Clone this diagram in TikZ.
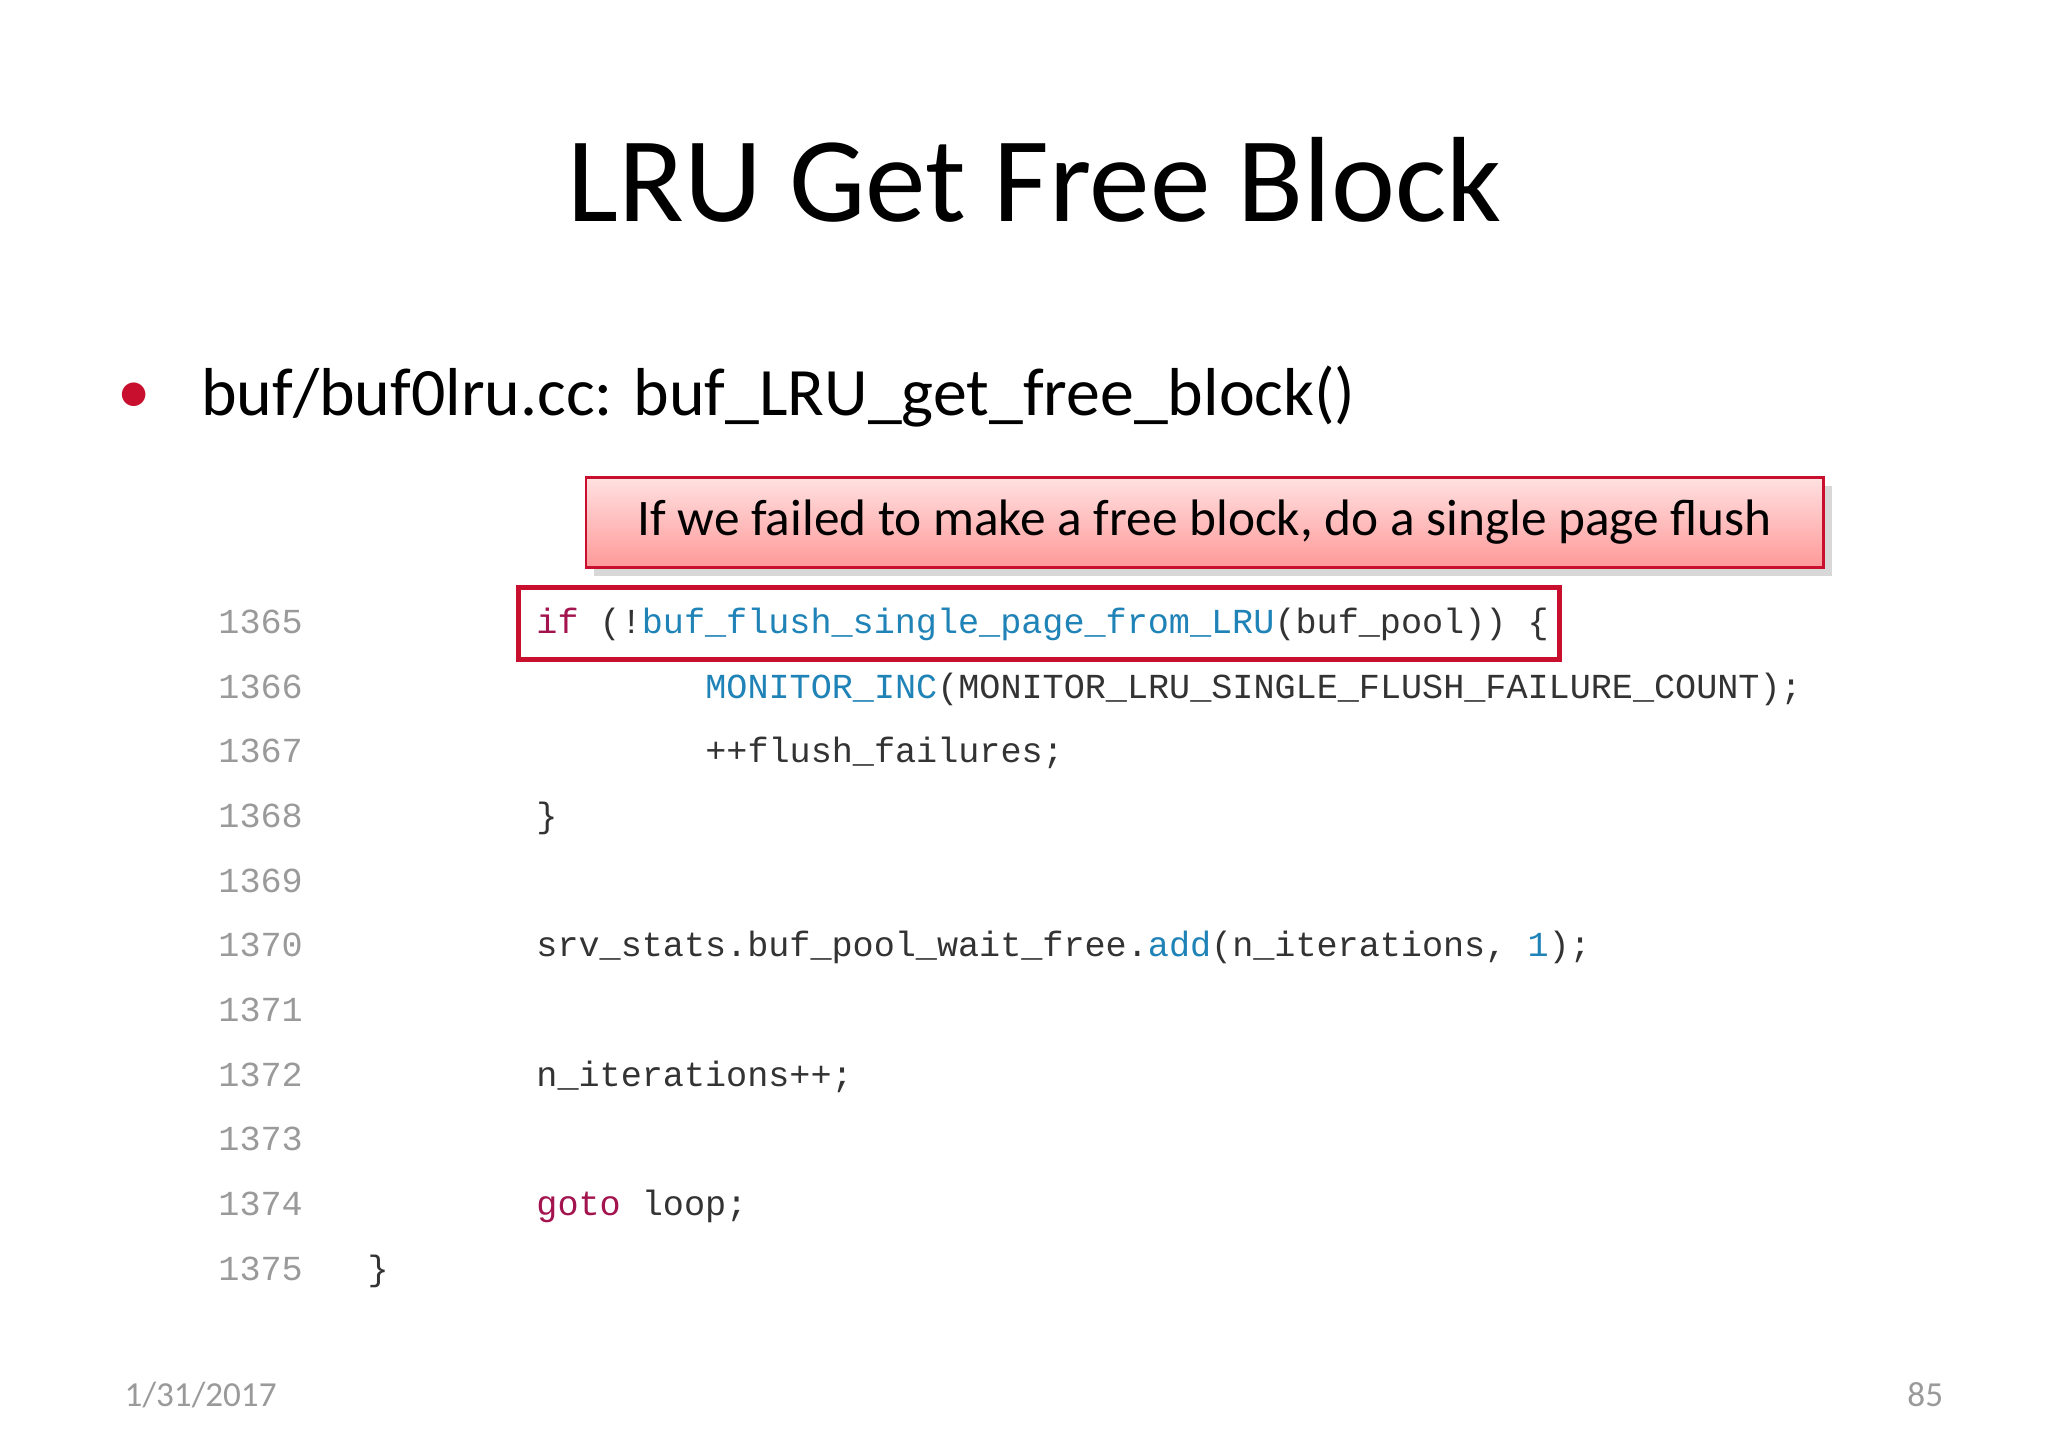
\documentclass[tikz,border=0pt]{standalone}
\usepackage{fontspec}
\setmainfont{Carlito}
\newfontfamily\codefont{Liberation Mono}
\usetikzlibrary{positioning,shadows}
\definecolor{kwred}{HTML}{A3134E}
\definecolor{fnblue}{HTML}{1F83B8}
\definecolor{numgray}{HTML}{9A9A9A}
\definecolor{codegray}{HTML}{333333}
\definecolor{boxred}{HTML}{C8102E}
\tikzset{
  codeline/.style={anchor=base west,inner sep=0pt,text=codegray,font=\codefont\fontsize{10}{12}\selectfont},
  lineno/.style={anchor=base west,inner sep=0pt,text=numgray,font=\codefont\fontsize{10}{12}\selectfont},
}
\newcommand{\kw}[1]{\textcolor{kwred}{#1}}
\newcommand{\fn}[1]{\textcolor{fnblue}{#1}}
\begin{document}
\begin{tikzpicture}[x=0.013196cm,y=-0.013196cm]
    \useasboundingbox[fill=white] (0,0) rectangle (1552,1097);
    % title and bullet
    \node[font=\fontsize{34.5}{40}\selectfont,anchor=base] (title) at (784,168) {LRU Get Free Block};
    \node[text=boxred,font=\fontsize{19}{23}\selectfont,anchor=base] (dot) at (102,313) {•};
    \node[font=\fontsize{19.3}{23}\selectfont,anchor=base west,inner sep=0pt] (bullet) at (152,315) {buf/buf0lru.cc: buf\_LRU\_get\_free\_block()};
    % callout
    \node[draw=boxred,line width=0.8pt,top color=red!12,bottom color=red!40,drop shadow={opacity=0.3},
          minimum width=938*0.013196cm,minimum height=68*0.013196cm,font=\fontsize{14.6}{18}\selectfont]
          (callout) at (913,396) {If we failed to make a free block, do a single page flush};
    % line numbers
    \foreach \n [count=\i from 0] in {1365,...,1375}
        \node[lineno] (ln\n) at (165,480+49*\i) {\n};
    % code
    \node[codeline] (c1365) at (406,480) {\kw{if} (!\fn{buf\_flush\_single\_page\_from\_LRU}(buf\_pool)) \{};
    \node[codeline] (c1366) at (534,529) {\fn{MONITOR\_INC}(MONITOR\_LRU\_SINGLE\_FLUSH\_FAILURE\_COUNT);};
    \node[codeline] (c1367) at (534,578) {++flush\_failures;};
    \node[codeline] (c1368) at (406,627) {\}};
    \node[codeline] (c1370) at (406,725) {srv\_stats.buf\_pool\_wait\_free.\fn{add}(n\_iterations, \fn{1});};
    \node[codeline] (c1372) at (406,823) {n\_iterations++;};
    \node[codeline] (c1374) at (406,921) {\kw{goto} loop;};
    \node[codeline] (c1375) at (278,970) {\}};
    % highlight
    \draw[boxred,line width=1.4pt] (393,445) rectangle (1182,500);
    % footer
    \node[text=numgray,font=\fontsize{10}{12}\selectfont,anchor=base west,inner sep=0pt] (date) at (94,1066) {1/31/2017};
    \node[text=numgray,font=\fontsize{10}{12}\selectfont,anchor=base east,inner sep=0pt] (page) at (1473,1066) {85};
\end{tikzpicture}
\end{document}
